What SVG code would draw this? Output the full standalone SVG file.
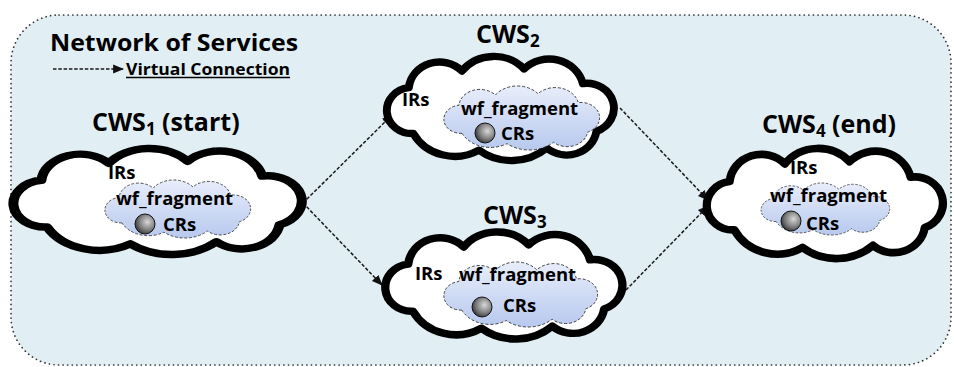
<svg xmlns="http://www.w3.org/2000/svg" width="954" height="367" viewBox="0 0 954 367">
<defs>
  <path id="cloudShape" d="M 22,74 A 22.1,22.1 0 0 1 18,30 A 27.2,27.2 0 0 1 65,14 A 35.6,35.6 0 0 1 120,12 A 30.6,30.6 0 0 1 172,26 A 23.9,23.9 0 0 1 184,72 A 26.6,26.6 0 0 1 140,88 A 46.4,46.4 0 0 1 80,90 A 41.3,41.3 0 0 1 22,74 Z"/>
  <linearGradient id="innerFill" x1="0" y1="0" x2="0" y2="1">
    <stop offset="0" stop-color="#e8edfa"/>
    <stop offset="1" stop-color="#b7c9ee"/>
  </linearGradient>
  <radialGradient id="sphere" cx="0.62" cy="0.4" r="0.75">
    <stop offset="0" stop-color="#d8d8d8"/>
    <stop offset="0.55" stop-color="#7a7a7a"/>
    <stop offset="1" stop-color="#1a1a1a"/>
  </radialGradient>
  <marker id="arrow" viewBox="0 0 10 10" refX="9" refY="5" markerWidth="11" markerHeight="11" markerUnits="userSpaceOnUse" orient="auto">
    <path d="M0,1 L10,5 L0,9 Z" fill="#111"/>
  </marker>
</defs>
<style>
  .bg { fill:#e1eff4; stroke:#333; stroke-width:1.7; stroke-dasharray:0.1 4.5; stroke-linecap:round; }
  .outer { fill:#fff; stroke:#000; stroke-width:7; vector-effect:non-scaling-stroke; stroke-linejoin:round; }
  .inner { fill:url(#innerFill); stroke:#222; stroke-width:1.2; stroke-dasharray:4 2.5; vector-effect:non-scaling-stroke; }
  .ball { fill:url(#sphere); stroke:#111; stroke-width:1; }
  .t { font-family:"Open Sans","Liberation Sans",sans-serif; font-weight:bold; fill:#000; }
  .title { font-size:24px; }
  .lbl { font-size:18.5px; }
  .cws { font-size:25px; }
  .sub { font-size:17px; }
  .conn { stroke:#1a1a1a; stroke-width:1.5; stroke-dasharray:3.5 1.8; fill:none; marker-end:url(#arrow); }
</style>

<rect class="bg" x="11" y="15" width="940" height="350" rx="48" ry="48"/>

<g id="legend">
  <text class="t title" x="50" y="50.5" textLength="248" lengthAdjust="spacingAndGlyphs">Network of Services</text>
  <line class="conn" x1="53" y1="69" x2="123" y2="69"/>
  <text class="t" x="126" y="74.5" font-size="16" font-weight="600" textLength="164" lengthAdjust="spacingAndGlyphs">Virtual Connection</text>
  <line x1="126" y1="77.5" x2="290" y2="77.5" stroke="#000" stroke-width="1.4"/>
</g>

<g id="connectors">
  <line class="conn" x1="303" y1="203" x2="392" y2="115"/>
  <line class="conn" x1="303" y1="203" x2="382" y2="285"/>
  <line class="conn" x1="620" y1="108" x2="708" y2="200"/>
  <line class="conn" x1="626" y1="290" x2="708" y2="206"/>
</g>

<g id="cws1">
  <text class="t cws" x="92" y="131">CWS<tspan class="sub" dy="4">1</tspan><tspan dy="-4"> (start)</tspan></text>
  <use href="#cloudShape" class="outer" transform="translate(15.5,148.5) scale(1.435,1.06)"/>
  <text class="t lbl" x="108" y="178.5">IRs</text>
  <use href="#cloudShape" class="inner" transform="translate(106,180) scale(0.725,0.58)"/>
  <text class="t lbl" x="116" y="204.5">wf_fragment</text>
  <circle class="ball" cx="145" cy="224" r="10"/>
  <text class="t lbl" x="163" y="231">CRs</text>
</g>

<g id="cws2">
  <text class="t cws" x="476" y="43">CWS<tspan class="sub" dy="4">2</tspan></text>
  <use href="#cloudShape" class="outer" transform="translate(388.5,56.5) scale(1.13,1.04)"/>
  <text class="t lbl" x="402" y="106">IRs</text>
  <use href="#cloudShape" class="inner" transform="translate(445,86) scale(0.775,0.64)"/>
  <text class="t lbl" x="461" y="115">wf_fragment</text>
  <circle class="ball" cx="485" cy="133" r="10"/>
  <text class="t lbl" x="501" y="140">CRs</text>
</g>

<g id="cws3">
  <text class="t cws" x="483" y="224">CWS<tspan class="sub" dy="4">3</tspan></text>
  <use href="#cloudShape" class="outer" transform="translate(387,232) scale(1.18,1.07)"/>
  <text class="t lbl" x="415" y="280">IRs</text>
  <use href="#cloudShape" class="inner" transform="translate(445,262) scale(0.765,0.65)"/>
  <text class="t lbl" x="459" y="281">wf_fragment</text>
  <circle class="ball" cx="482" cy="307" r="10"/>
  <text class="t lbl" x="503" y="312">CRs</text>
</g>

<g id="cws4">
  <text class="t cws" x="762" y="133">CWS<tspan class="sub" dy="4">4</tspan><tspan dy="-4"> (end)</tspan></text>
  <use href="#cloudShape" class="outer" transform="translate(708.5,148.5) scale(1.175,1.1)"/>
  <text class="t lbl" x="790" y="174">IRs</text>
  <use href="#cloudShape" class="inner" transform="translate(762,183) scale(0.64,0.52)"/>
  <text class="t lbl" x="770" y="201.5">wf_fragment</text>
  <circle class="ball" cx="791" cy="221" r="10"/>
  <text class="t lbl" x="806" y="230">CRs</text>
</g>
</svg>
